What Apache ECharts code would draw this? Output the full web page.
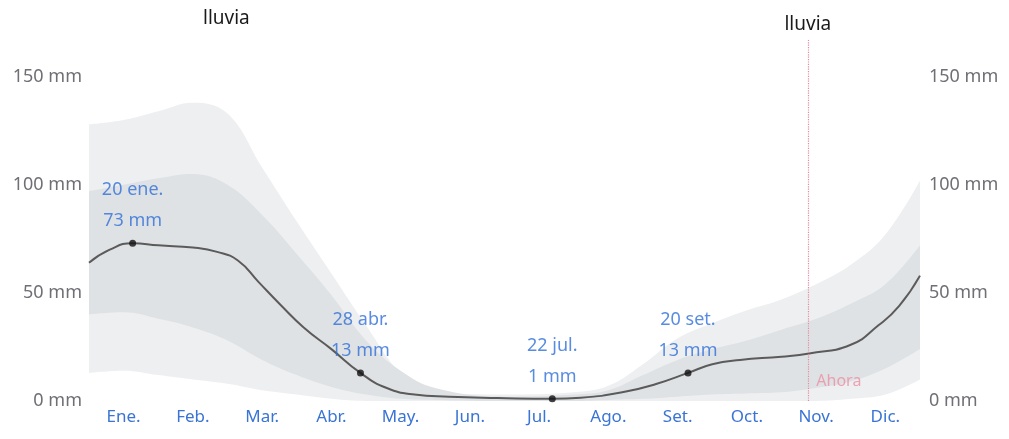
<!DOCTYPE html>
<html>
<head>
<meta charset="utf-8">
<script src="https://cdn.jsdelivr.net/npm/echarts@6/dist/echarts.min.js"></script>
<style>
  html, body { margin: 0; padding: 0; background: #fff; }
  #chart { width: 1009px; height: 439px; }
</style>
</head>
<body>
<div id="chart"></div>
<script>
// meses (etiquetas del eje x)
const months = ['Ene.', 'Feb.', 'Mar.', 'Abr.', 'May.', 'Jun.', 'Jul.', 'Ago.', 'Set.', 'Oct.', 'Nov.', 'Dic.'];

// lluvia media (mm), x en meses desde el 1 de enero
const lineX = [0, 0.3, 0.63, 1.0, 1.5, 1.85, 2.15, 2.45, 2.75, 3.1, 3.5, 3.92, 4.3, 4.7, 5.2, 5.9, 6.69, 7.1, 7.7, 8.2, 8.65, 9.0, 9.4, 10.0, 10.4, 11.0, 11.4, 11.7, 12];
const lineMm = [64, 70, 73, 72, 71, 69, 65, 55, 45, 34, 24, 13, 6, 3, 2, 1.4, 1, 1.5, 4, 8, 13, 17, 19, 20.5, 22, 26, 35, 44, 58];

// bandas de percentiles
const bandX = [0, 0.5, 1, 1.5, 2, 2.5, 3, 3.5, 4, 4.5, 5, 6, 7, 7.5, 8, 8.5, 9, 9.5, 10, 10.5, 11, 11.5, 12];
const p90 = [128, 130, 134, 138, 133, 108, 83, 59, 35, 13, 4, 3, 4, 7, 17, 29, 36, 42, 47, 54, 63, 77, 102];
const p75 = [97, 100, 103, 105, 100, 86, 68, 49, 28, 14, 6, 2, 3, 5, 12, 19, 24, 28, 33, 38, 45, 54, 72];
const p25 = [40, 41, 38, 34, 28, 19, 12, 6.5, 3, 1, 0.5, 0, 0, 0.5, 1, 2, 3, 3.5, 4, 6, 9, 15, 24];
const p10 = [13, 14, 12, 10, 8, 5, 3, 1, 0, 0, 0, 0, 0, 0, 0, 0, 0, 0, 0, 0, 1, 3, 10];

// puntos destacados
const markX = [0.63, 3.92, 6.69, 8.65];
const markMm = [73, 13, 1, 13];
const markDate = ['20 ene.', '28 abr.', '22 jul.', '20 set.'];

// hoy
const nowX = 10.38;
const nowLabelMm = 9;

const font = 'Noto Sans';
const pair = (xs, ys) => xs.map((x, i) => [x, ys[i]]);

function band(data, color) {
  return {
    type: 'line',
    xAxisIndex: 1,
    data: pair(bandX, data),
    smooth: 0.4,
    symbol: 'none',
    lineStyle: { width: 0 },
    areaStyle: { color: color, opacity: 1 },
    silent: true
  };
}

const chart = echarts.init(document.getElementById('chart'));
chart.setOption({
  animation: false,
  textStyle: { fontFamily: font },
  title: {
    text: 'lluvia',
    left: 198,
    top: 4,
    textStyle: { fontFamily: font, fontSize: 19, fontWeight: 'normal', color: '#1a1a1a' }
  },
  grid: { left: 89, right: 89, top: 40, bottom: 38 },
  xAxis: [
    {
      type: 'category',
      data: months,
      z: 3,
      axisLine: { show: false },
      axisTick: { show: false },
      axisLabel: { color: '#3a74d4', fontSize: 17, margin: 8, fontFamily: font },
      splitLine: { show: true, lineStyle: { color: 'rgba(255,255,255,0.6)', width: 1 } }
    },
    { type: 'value', min: 0, max: 12, show: false }
  ],
  yAxis: [
    {
      type: 'value', position: 'left', min: 0, max: 167, interval: 50,
      axisLine: { show: false }, axisTick: { show: false }, splitLine: { show: false },
      axisLabel: {
        color: '#6f6f76', fontSize: 18, margin: 7, fontFamily: font,
        formatter: v => (v % 50 === 0 ? v + ' mm' : '')
      }
    },
    {
      type: 'value', position: 'right', min: 0, max: 167, interval: 50,
      axisLine: { show: false }, axisTick: { show: false }, splitLine: { show: false },
      axisLabel: {
        color: '#6f6f76', fontSize: 18, margin: 9, fontFamily: font,
        formatter: v => (v % 50 === 0 ? v + ' mm' : '')
      }
    }
  ],
  series: [
    band(p90, '#eeeff1'),
    band(p75, '#dfe2e4'),
    band(p25, '#eeeff1'),
    band(p10, '#ffffff'),
    {
      name: 'lluvia',
      type: 'line',
      xAxisIndex: 1,
      data: pair(lineX, lineMm),
      smooth: 0.5,
      symbol: 'none',
      lineStyle: { color: '#5b5b5b', width: 2 },
      z: 4,
      markLine: {
        silent: true,
        symbol: 'none',
        lineStyle: { color: '#e58aa0', type: 'dotted', width: 1.2 },
        label: {
          show: true,
          position: 'end',
          formatter: 'lluvia',
          color: '#1a1a1a',
          fontSize: 19,
          fontFamily: font,
          distance: 6
        },
        data: [{ xAxis: nowX }]
      }
    },
    {
      type: 'scatter',
      xAxisIndex: 1,
      data: [[nowX, nowLabelMm]],
      symbolSize: 1,
      itemStyle: { color: 'rgba(0,0,0,0)' },
      z: 5,
      label: {
        show: true,
        position: 'right',
        distance: 8,
        formatter: 'Ahora',
        color: '#ec8fa2',
        fontSize: 16,
        fontFamily: font
      }
    },
    {
      type: 'scatter',
      xAxisIndex: 1,
      data: markX.map((x, i) => ({ value: [x, markMm[i]], name: markDate[i] })),
      symbolSize: 7,
      itemStyle: { color: '#111' },
      z: 6,
      label: {
        show: true,
        position: 'top',
        distance: 3,
        color: '#2f6fd8',
        fontSize: 18,
        lineHeight: 31,
        align: 'center',
        fontFamily: font,
        formatter: p => p.name + '\n' + p.value[1] + ' mm'
      }
    }
  ]
});
</script>
</body>
</html>
